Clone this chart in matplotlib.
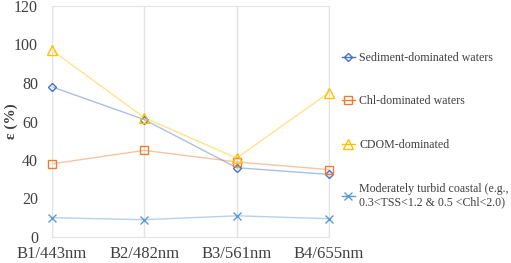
import matplotlib
matplotlib.use("Agg")
import matplotlib.pyplot as plt

categories = ["B1/443nm", "B2/482nm", "B3/561nm", "B4/655nm"]
sediment = [78, 61, 36, 32.5]
chl = [38, 45, 39, 35]
cdom = [97, 62, 41, 75]
moderate = [10, 9, 11, 9.5]
labels = ["Sediment-dominated waters", "Chl-dominated waters", "CDOM-dominated",
          "Moderately turbid coastal (e.g.,\n0.3<TSS<1.2 & 0.5 <Chl<2.0)"]

plt.rcParams['font.family'] = ['Liberation Serif', 'DejaVu Serif']

fig = plt.figure(figsize=(5.11, 2.63), dpi=100)
ax = fig.add_axes([52/511, 1-237/263, (329-52)/511, (237-6)/263])

x = list(range(len(categories)))
series = [
    (sediment, "#4472C4", "D", 4.5),
    (chl, "#ED7D31", "s", 6),
    (cdom, "#FFC000", "^", 7),
    (moderate, "#5B9BD5", "x", 6),
]
handles = []
for (vals, col, mk, ms), lab in zip(series, labels):
    ax.plot(x, vals, color=col, alpha=0.45, lw=1, zorder=2, clip_on=False)
    ax.plot(x, vals, linestyle='none', marker=mk, ms=ms, mfc='none', mec=col, mew=1,
            zorder=3, clip_on=False)
    h, = ax.plot([], [], color=col, lw=1, marker=mk, ms=ms, mfc='none', mec=col, mew=1)
    handles.append(h)

ax.set_xlim(0, 3)
ax.set_ylim(0, 120)
ax.set_yticks(range(0, 121, 20))
ax.set_xticks(x)
ax.set_xticklabels(categories)
ax.tick_params(length=0, colors="#404040")
ax.tick_params(axis="y", pad=10, labelsize=11.5)
ax.tick_params(axis="x", pad=6.5, labelsize=12)
ax.xaxis.grid(True, color="#e3e3e3", lw=1)
for s in ax.spines.values():
    s.set_color("#e3e3e3")
fig.text(11/511, 1-(6+237)/2/263, "ε (%)", rotation=90, fontsize=11, fontweight="bold",
         color="#404040", ha="center", va="center")

leg = fig.legend(handles=handles, labels=labels, loc="upper left",
                 bbox_to_anchor=(331/511, 1-41/263), frameon=False,
                 fontsize=8.6, labelspacing=2.65, handlelength=1.1, handletextpad=0.35,
                 labelcolor="#404040")

fig.savefig("out.png", dpi=100)
